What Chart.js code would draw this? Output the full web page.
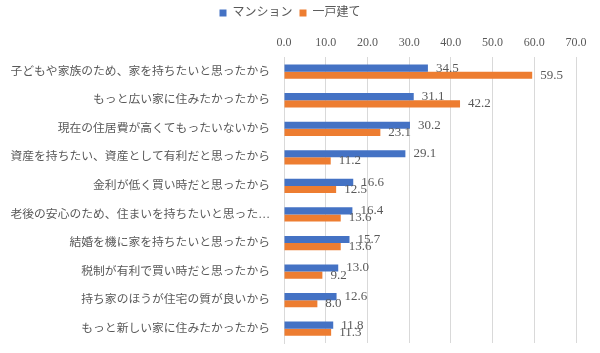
<!DOCTYPE html>
<html>
<head>
<meta charset="utf-8">
<script src="https://cdn.jsdelivr.net/npm/chart.js@4.4.1/dist/chart.umd.min.js"></script>
<style>
  html, body { margin: 0; padding: 0; background: #fff; }
  #wrap { width: 600px; height: 353px; }
</style>
</head>
<body>
<div id="wrap"><canvas id="c" width="600" height="353"></canvas></div>
<script>
const categories = [
  '子どもや家族のため、家を持ちたいと思ったから',
  'もっと広い家に住みたかったから',
  '現在の住居費が高くてもったいないから',
  '資産を持ちたい、資産として有利だと思ったから',
  '金利が低く買い時だと思ったから',
  '老後の安心のため、住まいを持ちたいと思った…',
  '結婚を機に家を持ちたいと思ったから',
  '税制が有利で買い時だと思ったから',
  '持ち家のほうが住宅の質が良いから',
  'もっと新しい家に住みたかったから'
];
const mansion = [34.5, 31.1, 30.2, 29.1, 16.6, 16.4, 15.7, 13.0, 12.6, 11.8];
const house   = [59.5, 42.2, 23.1, 11.2, 12.5, 13.6, 13.6, 9.2, 8.0, 11.3];
const seriesNames = ['マンション', '一戸建て'];

const FONT = '"Liberation Serif", "Noto Sans CJK JP", serif';

// value labels at bar ends
const barLabels = {
  id: 'barLabels',
  afterDatasetsDraw(chart) {
    const ctx = chart.ctx;
    ctx.save();
    ctx.font = '13px ' + FONT;
    ctx.fillStyle = '#595959';
    ctx.textAlign = 'left';
    ctx.textBaseline = 'middle';
    chart.data.datasets.forEach((ds, i) => {
      chart.getDatasetMeta(i).data.forEach((bar, j) => {
        ctx.fillText(ds.data[j].toFixed(1), bar.x + 8, bar.y);
      });
    });
    ctx.restore();
  }
};

new Chart(document.getElementById('c'), {
  type: 'bar',
  data: {
    labels: categories,
    datasets: [
      { label: seriesNames[0], data: mansion, backgroundColor: '#4472C4', categoryPercentage: 0.5, barPercentage: 1.0 },
      { label: seriesNames[1], data: house,   backgroundColor: '#ED7D31', categoryPercentage: 0.5, barPercentage: 1.0 }
    ]
  },
  options: {
    indexAxis: 'y',
    responsive: false,
    animation: false,
    layout: { padding: { left: 4, right: 24, top: 0, bottom: 10 } },
    plugins: {
      legend: {
        position: 'top',
        labels: { boxWidth: 7, boxHeight: 7, color: '#595959', font: { size: 12, family: FONT }, padding: 7 }
      },
      tooltip: { enabled: false }
    },
    scales: {
      x: {
        position: 'top',
        min: 0, max: 70,
        ticks: { stepSize: 10, color: '#595959', font: { size: 12, family: FONT }, callback: v => v.toFixed(1), padding: 7 },
        grid: { color: '#d9d9d9', drawTicks: false },
        border: { display: false }
      },
      y: {
        ticks: { color: '#595959', font: { size: 11.8, family: FONT }, padding: 14, autoSkip: false },
        grid: { display: false, drawTicks: false },
        border: { color: '#d9d9d9' },
        afterFit(scale) {
          scale.width = 280;
          scale.paddingTop = 0;
          scale.paddingBottom = 0;
        }
      }
    }
  },
  plugins: [barLabels]
});
</script>
</body>
</html>
